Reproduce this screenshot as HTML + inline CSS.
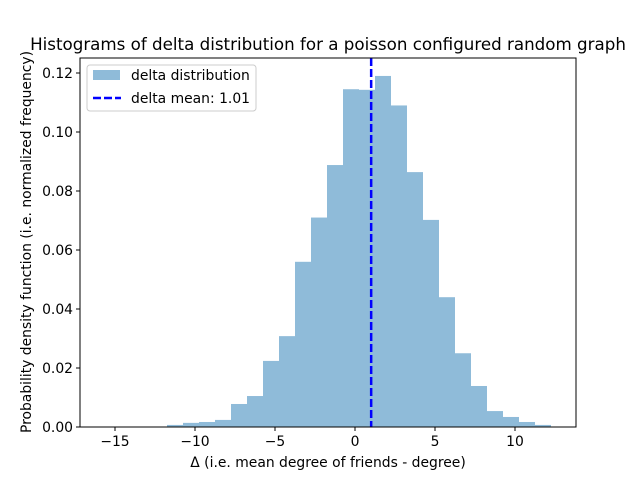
<!DOCTYPE html>
<html><head><meta charset="utf-8"><style>
body{margin:0;background:#fff;}
svg{display:block;font-family:"DejaVu Sans","Liberation Sans",sans-serif;}
</style></head><body>
<svg id="chart" width="640" height="480">
<rect x="0" y="0" width="640" height="480" fill="#fff"/>
<text x="328" y="50" font-size="16.7" text-anchor="middle">Histograms of delta distribution for a poisson configured random graph</text>
<g id="bars"></g>
<g id="meanline"></g>
<rect x="80" y="58" width="496" height="369" fill="none" stroke="#000" stroke-width="1"/>
<g id="xticks"></g>
<g id="yticks"></g>
<text x="328" y="467" font-size="13.9" text-anchor="middle">Δ (i.e. mean degree of friends - degree)</text>
<text transform="translate(31,242) rotate(-90)" font-size="13.9" text-anchor="middle">Probability density function (i.e. normalized frequency)</text>
<g>
<rect x="87" y="65" width="169" height="46" rx="3" fill="#fff" fill-opacity="0.8" stroke="#ccc"/>
<rect x="93" y="70" width="27" height="10" fill="#1f77b4" fill-opacity="0.5"/>
<text x="131" y="80" font-size="13.9">delta distribution</text>
<line x1="93" y1="98" x2="121" y2="98" stroke="#0000ff" stroke-width="2.5" stroke-dasharray="8,3"/>
<text x="131" y="103" font-size="13.9">delta mean: 1.01</text>
</g>
</svg>
<script>
const binStart = -11.75;
const binWidth = 1;
const densities = [0.0007,0.0014,0.0017,0.0024,0.0078,0.0105,0.0224,0.0308,0.056,0.071,0.0888,0.1145,0.1143,0.119,0.109,0.0864,0.0702,0.044,0.025,0.0139,0.0054,0.0034,0.0017,0.0007];
const meanValue = 1.01;
const xTicks = [-15,-10,-5,0,5,10];
const yTicks = [0,0.02,0.04,0.06,0.08,0.10,0.12];
const yTickLabels = ["0.00","0.02","0.04","0.06","0.08","0.10","0.12"];

const NS='http://www.w3.org/2000/svg';
function xs(v){return 355+v*16;}
function ys(v){return 427-v*2950;}
function mk(t,a){const e=document.createElementNS(NS,t);for(const k in a)e.setAttribute(k,a[k]);return e;}
const bars=document.getElementById('bars');
densities.forEach((d,i)=>{
  const x0=xs(binStart+i*binWidth), x1=xs(binStart+(i+1)*binWidth);
  const r=mk('rect',{x:x0,y:ys(d),width:x1-x0,height:ys(0)-ys(d),fill:'#1f77b4','fill-opacity':0.5});
  
  
  bars.appendChild(r);
});
const ml=mk('line',{x1:xs(meanValue),x2:xs(meanValue),y1:58,y2:427,stroke:'#0000ff','stroke-width':2.5,'stroke-dasharray':'8,3'});


document.getElementById('meanline').appendChild(ml);
const xg=document.getElementById('xticks');
xTicks.forEach(v=>{
  const l=mk('line',{x1:xs(v),x2:xs(v),y1:427,y2:431,stroke:'#000'});
  
  
  xg.appendChild(l);
  const t=mk('text',{x:xs(v),y:446,'font-size':13.9,'text-anchor':'middle'});
  t.textContent=v<0?'\u2212'+Math.abs(v):String(v);
  
  
  xg.appendChild(t);
});
const yg=document.getElementById('yticks');
yTicks.forEach((v,i)=>{
  const l=mk('line',{x1:76,x2:80,y1:ys(v),y2:ys(v),stroke:'#000'});
  
  
  yg.appendChild(l);
  const t=mk('text',{x:73,y:ys(v)+5,'font-size':13.9,'text-anchor':'end'});
  t.textContent=yTickLabels[i];
  
  
  yg.appendChild(t);
});
</script>
</body></html>
